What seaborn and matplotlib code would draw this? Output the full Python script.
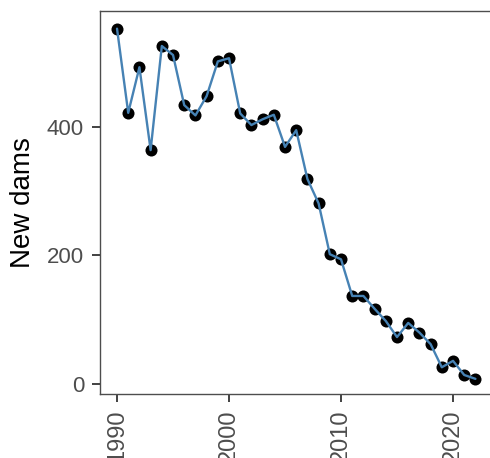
import matplotlib
matplotlib.use("Agg")
import matplotlib.pyplot as plt
import seaborn as sns
import pandas as pd

years = list(range(1990, 2023))
new_dams = [553, 422, 493, 364, 526, 512, 434, 418, 448, 502, 507,
            421, 403, 412, 419, 369, 395, 319, 281, 202, 194,
            137, 137, 117, 98, 73, 95, 80, 62, 26, 36, 14, 8]
x_ticks = [1990, 2000, 2010, 2020]
y_ticks = [0, 200, 400]

df = pd.DataFrame({"year": years, "dams": new_dams})

sns.set_style("white")
plt.rcParams["font.family"] = ["Liberation Sans", "DejaVu Sans"]

fig = plt.figure(figsize=(4.9, 4.58), dpi=100)
ax = fig.add_axes([100 / 490, (458 - 394) / 458, (493 - 100) / 490, (394 - 11) / 458])

sns.scatterplot(data=df, x="year", y="dams", ax=ax, color="black", s=75,
                edgecolor="black", linewidth=0, zorder=2)
sns.lineplot(data=df, x="year", y="dams", ax=ax, color="#4682B4",
             linewidth=1.7, zorder=3)

ax.set_xlim(1988.48, 2023.57)
ax.set_ylim(-15.6, 580.5)
ax.set_xticks(x_ticks)
ax.set_yticks(y_ticks)
ax.set_xticklabels([str(t) for t in x_ticks], rotation=90, va="top")
ax.set_xlabel("")
ax.set_ylabel("New dams", fontsize=20, color="black", labelpad=8)
ax.tick_params(axis="both", which="major", length=6, width=1.3,
               color="#333333", labelcolor="#4d4d4d", pad=5.5,
               left=True, bottom=True, top=False, right=False)
ax.tick_params(axis="y", labelsize=16)
ax.tick_params(axis="x", labelsize=17)
for side in ["left", "bottom", "top", "right"]:
    ax.spines[side].set_visible(True)
    ax.spines[side].set_color("#4d4d4d")
    ax.spines[side].set_linewidth(1.0)
ax.grid(False)

fig.savefig("out.png", dpi=100)
